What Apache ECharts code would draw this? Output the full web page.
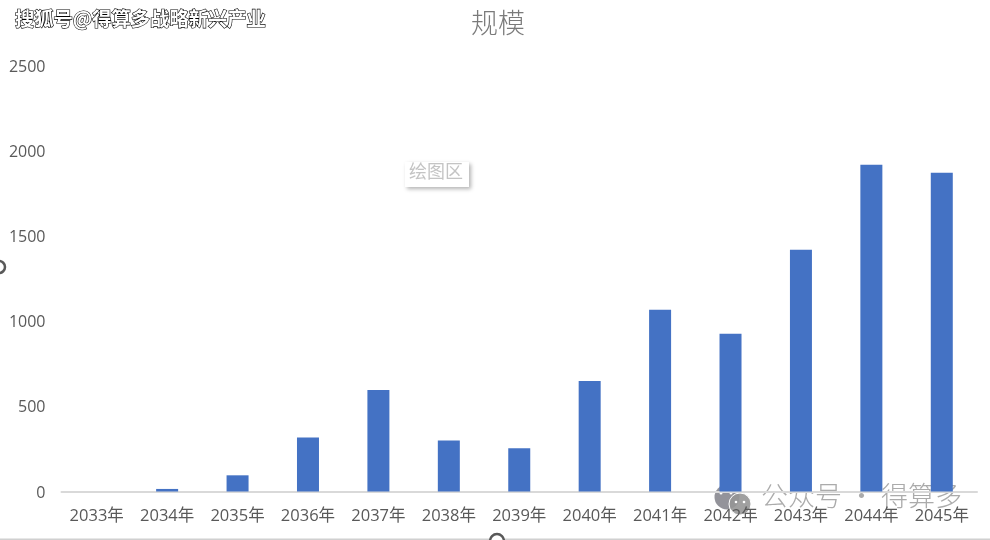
<!DOCTYPE html>
<html><head><meta charset="utf-8">
<style>html,body{margin:0;padding:0;background:#fff}#c{width:990px;height:540px}</style>
<script src="https://cdn.jsdelivr.net/npm/echarts@6/dist/echarts.min.js"></script>
</head><body><div id="c"></div>
<script>
const categories = ['2033年','2034年','2035年','2036年','2037年','2038年','2039年','2040年','2041年','2042年','2043年','2044年','2045年'];
const scaleValues = [0,15,95,317,596,300,254,648,1066,926,1418,1918,1870];
const yTicks = [0,500,1000,1500,2000,2500];
const titleText = '规模';
const sourceMark = '搜狐号@得算多战略新兴产业';
const plotTag = '绘图区';
const wechatMark = '公众号 · 得算多';
const font = '"Open Sans","Noto Sans CJK SC",sans-serif';
const cjk = '"Noto Sans CJK SC",sans-serif';
const chart = echarts.init(document.getElementById('c'), null, {renderer:'canvas'});
chart.setOption({
  animation:false,
  backgroundColor:'#fff',
  title:{text:titleText,left:466,top:4,textStyle:{fontFamily:cjk,fontSize:27,fontWeight:300,color:'#7a7a7a'}},
  grid:{left:61.5,right:13,top:65.5,bottom:48.5,containLabel:false},
  xAxis:{type:'category',data:categories,
    axisLine:{lineStyle:{color:'#d9d9d9',width:2}},axisTick:{show:false},
    axisLabel:{fontFamily:font,fontSize:16.5,color:'#595959',margin:17,interval:0}},
  yAxis:{type:'value',min:yTicks[0],max:yTicks[yTicks.length-1],interval:yTicks[1],
    splitLine:{show:false},axisLine:{show:false},axisTick:{show:false},
    axisLabel:{margin:16,formatter:v=>'{n|'+v+'}',
      rich:{n:{fontFamily:font,fontSize:16,color:'#595959',padding:[3,0,0,0]}}}},
  series:[{type:'bar',data:scaleValues,barWidth:22,itemStyle:{color:'#4472c4'}}],
  graphic:[
    {type:'rect',silent:true,shape:{x:0,y:538.5,width:990,height:2},style:{fill:'#d0d0d0'}},
    {type:'circle',silent:true,shape:{cx:-1,cy:267,r:6},style:{fill:'#fff',stroke:'#595959',lineWidth:2.5}},
    {type:'circle',silent:true,shape:{cx:497,cy:541,r:7},style:{fill:'#fff',stroke:'#595959',lineWidth:2.5}},
    {type:'text',silent:true,x:15,y:9,style:{text:sourceMark,fontFamily:cjk,fontSize:19.3,fontWeight:700,fill:'#fff',stroke:'#000',lineWidth:1.2}},
    {type:'rect',silent:true,shape:{x:405,y:162,width:64,height:25},style:{fill:'#fff',shadowBlur:4,shadowOffsetX:2,shadowOffsetY:2,shadowColor:'rgba(0,0,0,0.3)'}},
    {type:'text',silent:true,x:409,y:162,style:{text:plotTag,fontFamily:cjk,fontSize:18,fill:'#c4c4c4'}},
    {type:'circle',silent:true,shape:{cx:727,cy:497,r:12.5},style:{fill:'rgba(105,105,115,0.72)'}},
    {type:'circle',silent:true,shape:{cx:721,cy:493,r:1.5},style:{fill:'#fff'}},
    {type:'circle',silent:true,shape:{cx:731,cy:493,r:1.5},style:{fill:'#fff'}},
    {type:'circle',silent:true,shape:{cx:740,cy:504,r:11},style:{fill:'rgba(150,150,150,0.9)',stroke:'#fff',lineWidth:1}},
    {type:'circle',silent:true,shape:{cx:736,cy:502,r:1.3},style:{fill:'#fff'}},
    {type:'circle',silent:true,shape:{cx:744,cy:502,r:1.3},style:{fill:'#fff'}},
    {type:'text',silent:true,x:761,y:482,style:{text:wechatMark,fontFamily:cjk,fontSize:27,fontWeight:300,fill:'rgba(120,120,120,0.62)'}}
  ]
});
</script></body></html>
